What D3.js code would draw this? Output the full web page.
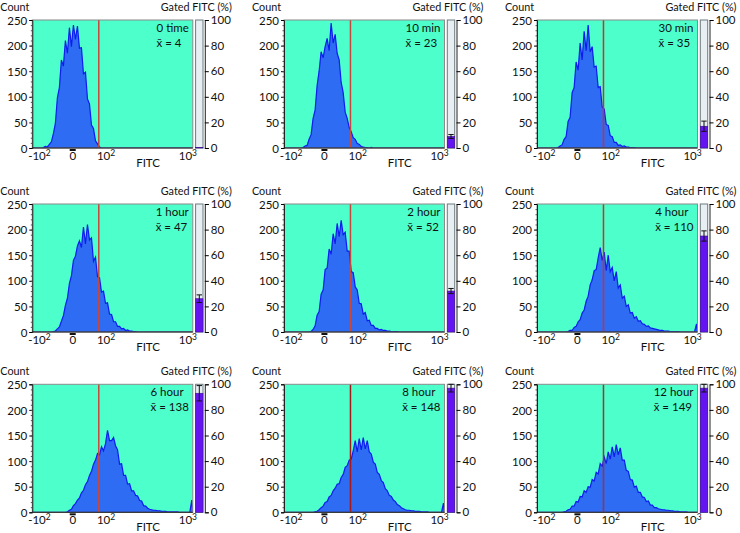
<!DOCTYPE html>
<html><head><meta charset="utf-8">
<script src="https://cdn.jsdelivr.net/npm/d3@7"></script>
<style>
body{margin:0;background:#fff;}
svg text{font-family:Lato,"Open Sans",sans-serif;font-size:11.5px;fill:#111;}
</style></head>
<body><svg id="c" width="740" height="533"></svg>
<script>
// ---- data ----
const panelLabels = ["0 time","10 min","30 min","1 hour","2 hour","4 hour","6 hour","8 hour","12 hour"];
const meanFITC = [4,23,35,47,52,110,138,148,149];
const gatedPct = [0.5,9,17,26,32,75,93,97,97];
const gatedErr = [0,1.5,4,3,2,4,6,3,3];
const gateValue = 72;
const countTicks = [0,50,100,150,200,250];
const pctTicks = [0,20,40,60,80,100];
const fitcTicks = [{v:-100,b:"-10",e:"2"},{v:0,b:"0",e:""},{v:100,b:"10",e:"2"},{v:1000,b:"10",e:"3"}];
// histogram counts per display channel (80 channels across the FITC axis)
const h0 = [0,0,0,0,0,1,3,2,7,12,28,48,98,118,172,160,210,185,235,198,240,212,238,195,196,145,148,96,86,45,38,14,8,2];
const h1 = [0,0,0,0,0,0,0,0,0,1,4,5,17,26,58,74,122,150,188,176,198,214,190,244,205,222,185,172,128,108,70,58,40,32,20,17,9,7,3,2,1,1,0,1];
const h2 = [0,0,0,0,0,0,0,0,0,0,1,4,6,17,22,52,60,108,118,168,152,205,172,228,190,240,188,198,158,160,118,120,80,76,46,44,24,22,11,11,5,6,3,4,2,2,1,1,1];
const h3 = [0,0,0,0,0,0,0,0,0,0,1,2,6,10,21,32,52,66,95,110,140,148,168,178,165,205,172,210,180,184,138,146,108,106,78,80,56,57,35,34,20,20,11,11,6,7,3,4,2,2,1,1];
const h4 = [0,0,0,0,0,0,0,0,0,0,0,0,0,1,5,12,33,40,74,82,122,125,162,152,192,172,212,186,218,190,195,158,158,118,116,88,82,56,55,35,38,22,23,13,13,7,7,4,5,3,3,2,2,1,1,1,1];
const h5 = [0,0,0,0,0,0,0,0,0,0,0,0,0,0,0,1,3,3,9,11,20,24,37,43,60,70,92,102,120,122,145,165,140,156,120,150,118,126,100,118,86,92,66,70,50,53,37,38,27,30,21,22,16,15,11,12,8,7,6,5,4,3,3,2,2,2,1,1,1,1,1,0,0,0,0,0,0,0,0,16];
const h6 = [0,0,0,0,0,0,0,0,0,0,0,0,0,0,0,0,0,1,4,6,13,17,24,28,38,43,54,60,72,80,94,102,115,112,128,120,134,160,140,140,146,130,122,94,95,72,72,55,56,42,42,33,32,23,22,13,12,8,6,5,4,4,3,3,2,2,2,1,1,1,1,1,1,0,0,0,0,0,0,24];
const h7 = [0,0,0,0,0,0,0,0,0,0,0,0,0,0,0,1,2,5,9,12,19,21,30,33,42,47,55,56,68,74,88,91,102,104,120,140,118,144,122,146,124,140,118,114,98,94,78,74,62,58,46,42,33,31,24,21,15,13,9,7,5,4,4,3,3,2,2,2,1,1,1,1,0,0,0,0,0,0,0,18];
const h8 = [0,0,0,0,0,0,0,0,0,0,0,0,0,1,2,5,6,12,12,21,20,31,30,42,39,50,49,64,61,78,75,95,90,108,95,118,104,128,108,132,112,126,102,102,82,80,64,63,49,51,39,39,30,29,21,22,14,14,9,9,7,6,5,5,4,4,3,3,2,2,2,1,1,1,1];
const histograms = [h0,h1,h2,h3,h4,h5,h6,h7,h8];
const gateColors = ["#c8473d","#c8473d","#e02828","#c8473d","#c8473d","#e02828","#c8473d","#a81818","#a83030"];

// ---- layout ----
const colX = [32.3, 284, 537];
const rowY = [20, 204, 384.3];
const W = 160.5, H = 128;
const nCh = 80;

const svg = d3.select("#c");
const defs = svg.append("defs");

const x = d3.scaleSymlog().constant(100).domain([-132, 1118]).range([0, W]);
const y = d3.scaleLinear().domain([0, 250]).range([H, 0]);
const yp = d3.scaleLinear().domain([0, 100]).range([H, 0]);
// channel centres on the FITC axis
const chan = d3.range(nCh).map(i => x.invert((i + 0.5) * W / nCh));

panelLabels.forEach((lab, k) => {
  const r = Math.floor(k / 3), c = k % 3;
  const g = svg.append("g").attr("transform", `translate(${colX[c]},${rowY[r]})`);
  defs.append("clipPath").attr("id", "cp" + k).append("rect").attr("width", W).attr("height", H);

  g.append("rect").attr("width", W).attr("height", H).attr("fill", "#4cffcb");

  const counts = chan.map((v, i) => ({v, n: histograms[k][i] || 0}));
  const pts = [{v: x.invert(0), n: 0}, ...counts, {v: x.invert(W), n: 0}];
  const area = d3.area().x(d => x(d.v)).y0(H).y1(d => y(d.n)).curve(d3.curveLinear);
  const hg = g.append("g").attr("clip-path", `url(#cp${k})`);
  hg.append("path").datum(pts).attr("d", area).attr("fill", "#2d6cf3")
    .attr("stroke", "#0f1cf0").attr("stroke-width", 1.2).attr("stroke-linejoin", "miter");

  // gate line
  g.append("line").attr("x1", x(gateValue)).attr("x2", x(gateValue)).attr("y1", 0).attr("y2", H)
    .attr("stroke", gateColors[k]).attr("stroke-width", 1.5);

  // frame
  g.append("rect").attr("width", W).attr("height", H).attr("fill", "none").attr("stroke", "#8a8a8a").attr("stroke-width", 1);

  // left axis
  const ya = g.append("g").call(d3.axisLeft(y).tickValues(countTicks).tickSize(3).tickPadding(2));
  ya.select(".domain").attr("stroke", "#222");
  ya.selectAll("text").style("font-size", "11.5px").style("font-family", "Lato").attr("dy", "0.36em");
  g.append("g").call(d3.axisLeft(y).tickValues(d3.range(10, 250, 10)).tickSize(1.5).tickFormat(""))
    .call(s => s.select(".domain").remove()).selectAll("line").attr("stroke", "#555");

  // bottom axis line + labels
  g.append("line").attr("x1", 0).attr("x2", W).attr("y1", H).attr("y2", H).attr("stroke", "#222");
  g.append("rect").attr("x", x(0) - 3).attr("y", H + 1).attr("width", 6).attr("height", 2).attr("fill", "#111");
  fitcTicks.forEach(t => {
    const tx = g.append("text").attr("x", x(t.v)).attr("y", H + 12).attr("text-anchor", "middle");
    tx.append("tspan").text(t.b);
    if (t.e) tx.append("tspan").attr("dy", -4).style("font-size", "8.5px").text(t.e);
  });
  g.append("text").attr("x", x(380)).attr("y", H + 19).attr("text-anchor", "middle").text("FITC");

  // titles
  g.append("text").attr("x", -32).attr("y", -9.5).style("font-size", "10.8px").text("Count");

  // annotation block
  const ann = g.append("g");
  const t1 = ann.append("text").attr("y", 12).text(lab);
  const t2 = ann.append("text").attr("y", 27).text("x\u0304 = " + meanFITC[k]);
  const bw = Math.max(t1.node().getComputedTextLength(), t2.node().getComputedTextLength());
  ann.attr("transform", `translate(${W - 4 - bw},0)`);

  // gated bar
  const bx = W + 2.8, bW = 7.4;
  g.append("rect").attr("x", bx).attr("y", 0).attr("width", bW).attr("height", H)
    .attr("fill", "#e8eff3").attr("stroke", "#6d7a80").attr("stroke-width", 1);
  g.append("rect").attr("x", bx).attr("y", yp(gatedPct[k])).attr("width", bW).attr("height", H - yp(gatedPct[k]))
    .attr("fill", "#6414f0").attr("stroke", "#3a1090").attr("stroke-width", 0.6);
  if (gatedErr[k] > 0) {
    const cx = bx + bW / 2, top = yp(Math.min(100, gatedPct[k] + gatedErr[k])), bot = yp(gatedPct[k] - gatedErr[k]);
    g.append("line").attr("x1", cx).attr("x2", cx).attr("y1", top).attr("y2", bot).attr("stroke", "#111");
    [top, bot].forEach(yy => g.append("line").attr("x1", bx + 1).attr("x2", bx + bW - 1).attr("y1", yy).attr("y2", yy).attr("stroke", "#111"));
  }

  // right axis
  const ra = g.append("g").attr("transform", `translate(${W + 12},0)`)
    .call(d3.axisRight(yp).tickValues(pctTicks).tickSize(4).tickPadding(2));
  ra.select(".domain").attr("stroke", "#222");
  ra.selectAll("text").style("font-size", "11.5px").style("font-family", "Lato");
  g.append("text").attr("x", W + 39).attr("y", -9.5).attr("text-anchor", "end").style("font-size", "10.8px").text("Gated FITC (%)");
});
</script>
</body></html>
